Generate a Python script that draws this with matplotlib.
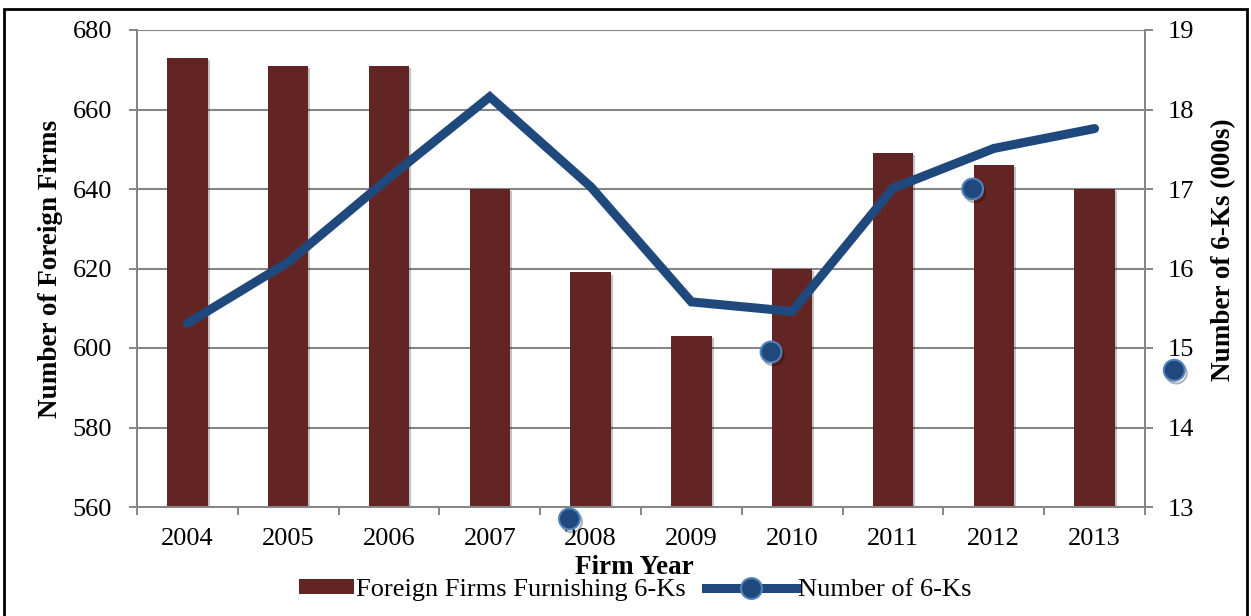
import matplotlib
matplotlib.use("Agg")
import matplotlib.pyplot as plt
import matplotlib.patheffects as pe
from matplotlib.lines import Line2D
from matplotlib.patches import Patch, Rectangle
from matplotlib.legend_handler import HandlerPatch
import numpy as np

plt.rcParams["font.family"] = ["Liberation Serif", "DejaVu Serif"]

# data
years = ["2004", "2005", "2006", "2007", "2008",
         "2009", "2010", "2011", "2012", "2013"]
firms = [673, 671, 671, 640, 619, 603, 620, 649, 646, 640]
filings_000s = [15.31, 16.08, 17.14, 18.16, 17.03,
                15.58, 15.46, 17.01, 17.51, 17.76]
# stray markers that sit off the line in the original chart
stray_x = [3.79, 5.79, 7.79, 9.79]
stray_y = [12.85, 14.95, 17.00, 14.72]

BAR_COL = "#632523"
LINE_COL = "#1F497D"
EDGE_COL = "#4F81BD"
GRID_COL = "#868686"
TICK_FS = 19
LABEL_FS = 19.5

W, H = 1251, 616
fig = plt.figure(figsize=(W / 100, H / 100), dpi=100)
ax = fig.add_axes([137 / W, 1 - 507 / H, (1145 - 137) / W, (507 - 30) / H])
ax2 = ax.twinx()

x = np.arange(len(years))
shadow = [pe.SimplePatchShadow(offset=(1.5, -1.5), alpha=0.25), pe.Normal()]
bars = ax.bar(x, firms, width=0.4, color=BAR_COL, zorder=2)
for b in bars:
    b.set_path_effects(shadow)

ax.set_xlim(-0.5, len(years) - 0.5)
ax.set_ylim(560, 680)
ax.set_yticks(np.arange(560, 681, 20))
ax.yaxis.grid(True, color=GRID_COL, linewidth=1.5, zorder=0)
ax.set_axisbelow(True)

# category boundary ticks, labels centred on categories
ax.set_xticks(np.arange(-0.5, len(years), 1))
ax.set_xticklabels([])
ax.set_xticks(x, minor=True)
ax.set_xticklabels(years, minor=True)
ax.tick_params(axis="x", which="major", length=6, width=1.4,
               color=GRID_COL, direction="out")
ax.tick_params(axis="x", which="minor", length=0, pad=15, labelsize=TICK_FS)
ax.tick_params(axis="y", length=6, width=1.4, color=GRID_COL,
               direction="out", labelsize=TICK_FS, pad=12)

ax2.set_ylim(13, 19)
ax2.set_yticks(np.arange(13, 20, 1))
ax2.tick_params(axis="y", length=6, width=1.4, color=GRID_COL,
                direction="out", labelsize=TICK_FS, pad=10)

for a in (ax, ax2):
    for side in ("left", "right", "bottom"):
        a.spines[side].set_color(GRID_COL)
        a.spines[side].set_linewidth(1.4)
    a.spines["top"].set_visible(False)

ax2.plot(x, filings_000s, color=LINE_COL, linewidth=6.5,
         solid_capstyle="round", solid_joinstyle="miter", zorder=3)
ax2.plot(stray_x, stray_y, linestyle="none", marker="o", markersize=15,
         markerfacecolor=LINE_COL, markeredgecolor=EDGE_COL,
         markeredgewidth=1.5, clip_on=False, zorder=4,
         path_effects=[pe.SimpleLineShadow(offset=(1.5, -2), alpha=0.3),
                       pe.Normal()])

ax.set_ylabel("Number of Foreign Firms", fontsize=LABEL_FS, fontweight="bold")
ax.yaxis.set_label_coords(-0.073, 0.5)
ax2.set_ylabel("Number of 6-Ks (000s)", fontsize=LABEL_FS, fontweight="bold")
ax2.yaxis.set_label_coords(1.0655, 0.54)
fig.text(634 / W, 1 - 567 / H, "Firm Year", fontsize=LABEL_FS,
         fontweight="bold", ha="center", va="center")


def narrow_patch(legend, orig_handle, xdescent, ydescent, width, height,
                 fontsize):
    w = width * 55 / 90
    return Rectangle((width - w - xdescent, -ydescent), w, height)


handles = [Patch(facecolor=BAR_COL),
           Line2D([0], [0], color=LINE_COL, linewidth=6.5, marker="o",
                  markersize=15, markerfacecolor=LINE_COL,
                  markeredgecolor=EDGE_COL, markeredgewidth=1.5)]
fig.legend(handles, ["Foreign Firms Furnishing 6-Ks", "Number of 6-Ks"],
           loc="center", bbox_to_anchor=(618 / W, 1 - 590 / H), ncol=2,
           frameon=False, fontsize=TICK_FS, handlelength=3.4,
           handletextpad=0.1, columnspacing=0.75, borderpad=0,
           handleheight=0.53,
           handler_map={Patch: HandlerPatch(patch_func=narrow_patch)})

# outer frame of the original figure
fig.patches.append(Rectangle((4 / W, -0.02), (1247 - 4) / W, 1.02 - 9 / H,
                             transform=fig.transFigure, fill=False,
                             edgecolor="black", linewidth=2))

fig.savefig("out.png", dpi=100)
